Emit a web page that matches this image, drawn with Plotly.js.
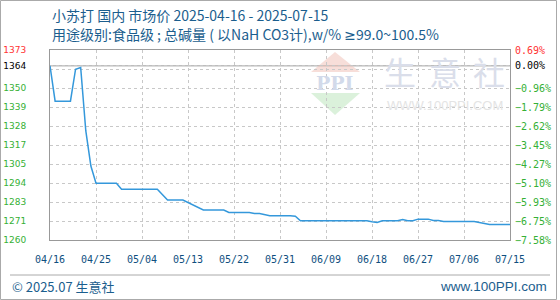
<!DOCTYPE html>
<html>
<head>
<meta charset="utf-8">
<script src="https://cdn.plot.ly/plotly-3.0.1.min.js"></script>
<style>
  html, body { margin: 0; padding: 0; background: #fff; }
  #chart { width: 560px; height: 300px; }
</style>
</head>
<body>
<div id="chart"></div>
<script>
// Baking soda (food grade) domestic market price, yuan/ton
const dates = [
  '2025-04-16', '2025-04-17', '2025-04-20', '2025-04-21', '2025-04-22',
  '2025-04-23', '2025-04-24', '2025-04-25', '2025-04-29', '2025-04-30',
  '2025-05-07', '2025-05-09', '2025-05-12', '2025-05-16', '2025-05-20',
  '2025-05-21', '2025-05-25', '2025-05-26', '2025-05-27', '2025-05-28',
  '2025-05-29', '2025-06-02', '2025-06-03', '2025-06-04', '2025-06-17',
  '2025-06-18', '2025-06-19', '2025-06-20', '2025-06-23', '2025-06-24',
  '2025-06-25', '2025-06-26', '2025-06-27', '2025-06-29', '2025-06-30',
  '2025-07-01', '2025-07-02', '2025-07-08', '2025-07-09', '2025-07-10',
  '2025-07-11', '2025-07-15'
];
const prices = [
  1364, 1343, 1343, 1362, 1363,
  1325.5, 1304.5, 1294.3, 1294.3, 1290.7,
  1290.7, 1284.3, 1284.3, 1278.4, 1278.4,
  1277, 1277, 1276.4, 1276.4, 1275.8,
  1275, 1275, 1274.7, 1272, 1272,
  1271.4, 1271, 1272, 1272, 1272.7,
  1272, 1272, 1273, 1273, 1272.2,
  1272.2, 1271.6, 1271.6, 1271, 1270.4,
  1269.8, 1269.8
];

// Reference price (0.00%) and the axis extent in percent
const basePrice = 1364;
const pctBottom = -7.58;
const pctTop = 0.69;

// Tick labels, bottom to top; the label under the 1364 line is left blank
const priceLabels = ['1260', '1271', '1283', '1294', '1305', '1317', '1328', '1339', '1350', '', '1373'];
const pctLabels = ['−7.58%', '−6.75%', '−5.93%', '−5.10%', '−4.27%', '−3.45%', '−2.62%', '−1.79%', '−0.96%', '', '0.69%'];
const baseLabel = '1364';
const basePctLabel = '0.00%';
const xTickLabels = ['04/16', '04/25', '05/04', '05/13', '05/22', '05/31', '06/09', '06/18', '06/27', '07/06', '07/15'];

const GREEN = '#35b035';
const RED = '#ff3333';
const BLUE_TEXT = '#1b5e8e';

const yMin = basePrice * (1 + pctBottom / 100);
const yMax = basePrice * (1 + pctTop / 100);
const nSteps = priceLabels.length - 1;
const gridVals = priceLabels.map((_, k) => yMin + k * (yMax - yMin) / nSteps);

function colorize(labels) {
  return labels.map((t, k) => k === labels.length - 1 ? '<span style="color:' + RED + '">' + t + '</span>' : t);
}
const leftVals = gridVals.concat([basePrice]);
const leftText = colorize(priceLabels).concat(['<span style="color:#000">' + baseLabel + '</span>']);
const rightText = colorize(pctLabels).concat(['<span style="color:#000">' + basePctLabel + '</span>']);

const xTickVals = xTickLabels.map(l => '2025-' + l.replace('/', '-'));

// plot area in pixels: x 50..510, y 50..240
const L = 50, T = 50, W = 460, H = 190;
const px = x => (x - L) / W;
const py = y => (T + H - y) / H;

const traces = [
  {
    x: dates, y: prices, type: 'scatter', mode: 'lines',
    line: { color: '#3498db', width: 1.5 },
    hoverinfo: 'x+y', showlegend: false
  },
  {
    x: dates, y: prices, type: 'scatter', mode: 'lines', yaxis: 'y2',
    line: { color: 'rgba(0,0,0,0)', width: 0 },
    hoverinfo: 'skip', showlegend: false
  }
];

const gridStyle = { showgrid: true, gridcolor: '#c8c8c8', griddash: '3px,3px', gridwidth: 1 };

const layout = {
  width: 560, height: 300, autosize: false,
  margin: { l: L, r: 560 - L - W, t: T, b: 300 - T - H, pad: 0 },
  paper_bgcolor: '#fff', plot_bgcolor: 'rgba(0,0,0,0)',
  showlegend: false,
  xaxis: Object.assign({
    type: 'date', range: [xTickVals[0], xTickVals[xTickVals.length - 1]],
    tickmode: 'array', tickvals: xTickVals, ticktext: xTickLabels,
    ticks: '', ticklabelstandoff: 10,
    tickfont: { family: 'DejaVu Sans Mono', size: 10, color: '#0f4f80' },
    showline: true, linecolor: '#999', linewidth: 1, mirror: true,
    zeroline: false, fixedrange: true
  }, gridStyle),
  yaxis: Object.assign({
    range: [yMin, yMax], tickmode: 'array', tickvals: leftVals, ticktext: leftText,
    ticks: '', ticklabelstandoff: 21,
    tickfont: { family: 'DejaVu Sans', size: 9, color: GREEN },
    showline: true, linecolor: '#999', linewidth: 1, mirror: true,
    zeroline: false, fixedrange: true
  }, gridStyle),
  yaxis2: {
    overlaying: 'y', side: 'right', anchor: 'x',
    range: [yMin, yMax], tickmode: 'array', tickvals: leftVals, ticktext: rightText,
    ticks: '', ticklabelstandoff: 4,
    tickfont: { family: 'DejaVu Sans Mono', size: 10, color: GREEN },
    showgrid: false, showline: false, zeroline: false, fixedrange: true
  },
  shapes: [
    // reference price line
    { type: 'line', xref: 'paper', yref: 'y', x0: 0, x1: 1, y0: basePrice, y1: basePrice,
      line: { color: '#9a9a9a', width: 1 }, layer: 'between' },
    // watermark logo
    { type: 'path', xref: 'paper', yref: 'paper', layer: 'below',
      path: 'M' + px(335) + ',' + py(52) + ' L' + px(360) + ',' + py(72) + ' L' + px(311) + ',' + py(72) + ' Z',
      fillcolor: 'rgba(240,190,180,0.5)', line: { width: 0 } },
    { type: 'path', xref: 'paper', yref: 'paper', layer: 'below',
      path: 'M' + px(311) + ',' + py(93) + ' L' + px(360) + ',' + py(93) + ' L' + px(335) + ',' + py(115) + ' Z',
      fillcolor: 'rgba(190,230,190,0.55)', line: { width: 0 } },
    // footer rule and outer frame
    { type: 'line', xref: 'paper', yref: 'paper', x0: px(10), x1: px(550), y0: py(275), y1: py(275),
      line: { color: '#aaa', width: 1 } },
    { type: 'rect', xref: 'paper', yref: 'paper', x0: px(0.5), x1: px(556.5), y0: py(0.5), y1: py(299.5),
      line: { color: '#aaa', width: 1 }, fillcolor: 'rgba(0,0,0,0)' }
  ],
  annotations: [
    { text: '小苏打 国内 市场价 2025-04-16 - 2025-07-15', xref: 'paper', yref: 'paper',
      x: 0, y: py(15), xanchor: 'left', yanchor: 'middle', showarrow: false,
      font: { family: 'Noto Sans CJK SC', size: 14, color: BLUE_TEXT } },
    { text: '用途级别:食品级 ; 总碱量 ( 以NaH CO3计),w/% <span style="font-family:DejaVu Sans">≥</span>99.0~100.5%',
      xref: 'paper', yref: 'paper',
      x: 0, y: py(34), xanchor: 'left', yanchor: 'middle', showarrow: false,
      font: { family: 'Noto Sans CJK SC', size: 14, color: BLUE_TEXT } },
    // watermark text
    { text: 'PPI', xref: 'paper', yref: 'paper', x: px(335), y: py(83), xanchor: 'center', yanchor: 'middle',
      showarrow: false, font: { family: 'DejaVu Serif', size: 19, color: '#d2daea', weight: 'bold' } },
    { text: '生', xref: 'paper', yref: 'paper', x: px(400), y: py(71), xanchor: 'center', yanchor: 'middle',
      showarrow: false, font: { family: 'Noto Sans CJK SC', size: 32, color: '#dadeea' } },
    { text: '意', xref: 'paper', yref: 'paper', x: px(445), y: py(71), xanchor: 'center', yanchor: 'middle',
      showarrow: false, font: { family: 'Noto Sans CJK SC', size: 32, color: '#dadeea' } },
    { text: '社', xref: 'paper', yref: 'paper', x: px(489), y: py(71), xanchor: 'center', yanchor: 'middle',
      showarrow: false, font: { family: 'Noto Sans CJK SC', size: 32, color: '#dadeea' } },
    { text: 'WWW.100PPI.COM', xref: 'paper', yref: 'paper', x: px(385), y: py(105), xanchor: 'left', yanchor: 'middle',
      showarrow: false, font: { family: 'Liberation Sans', size: 13, color: '#e4e4e4' } },
    // footer
    { text: '© 2025.07 生意社', xref: 'paper', yref: 'paper', x: px(10), y: py(286), xanchor: 'left', yanchor: 'middle',
      showarrow: false, font: { family: 'Noto Sans CJK SC', size: 13, color: BLUE_TEXT } },
    { text: 'www.100PPI.com', xref: 'paper', yref: 'paper', x: px(549), y: py(286), xanchor: 'right', yanchor: 'middle',
      showarrow: false, font: { family: 'Liberation Sans', size: 13.5, color: BLUE_TEXT } }
  ]
};

Plotly.newPlot('chart', traces, layout, { staticPlot: true, displayModeBar: false });
</script>
</body>
</html>
